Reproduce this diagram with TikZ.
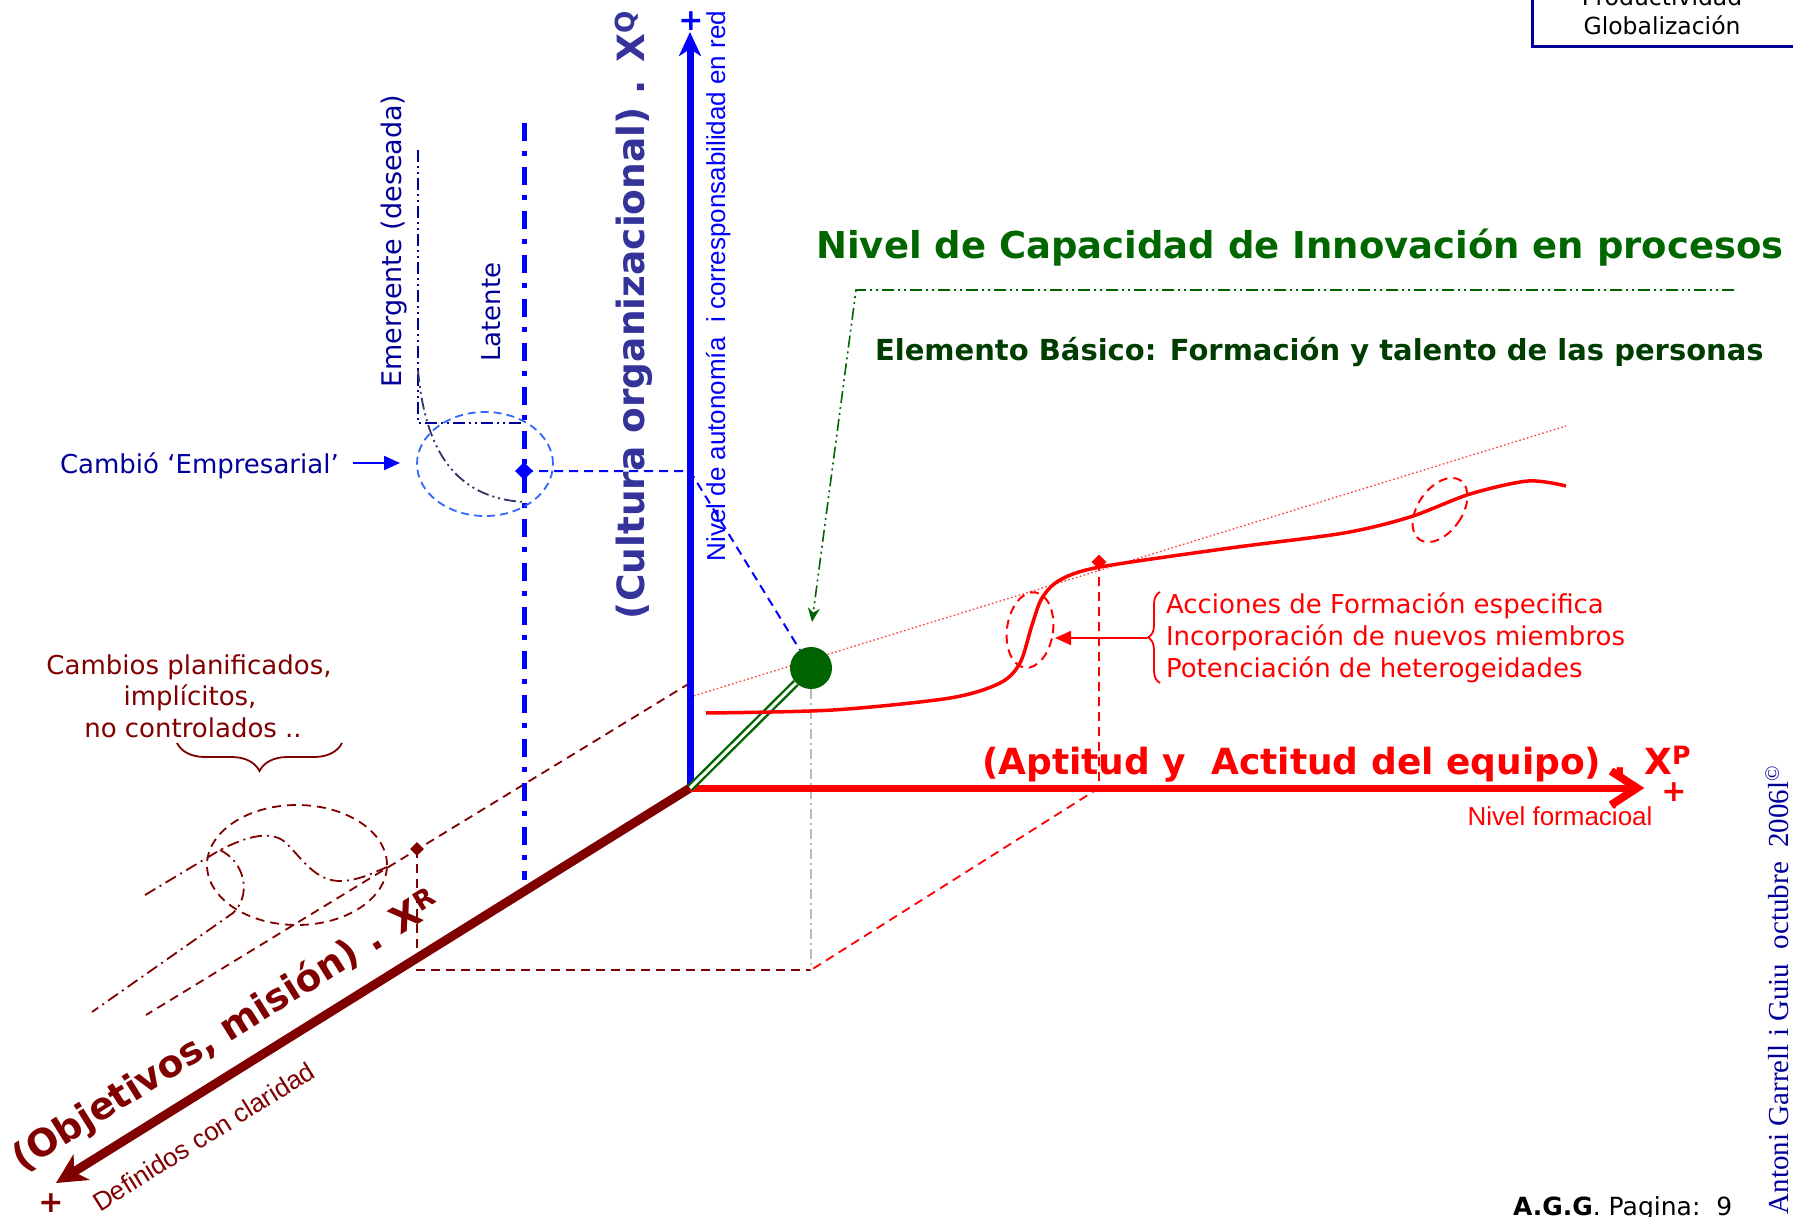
\documentclass[tikz,border=0pt]{standalone}
\usepackage{fontspec}
\usepackage{graphicx}
\setmainfont{DejaVu Sans}
\newfontfamily\arialf{Liberation Sans}
\newfontfamily\timesf{Liberation Serif}
\usetikzlibrary{arrows.meta,shapes.geometric,decorations.pathreplacing}
\definecolor{maroonc}{HTML}{800000}
\definecolor{cultc}{HTML}{333399}
\definecolor{navyc}{HTML}{000099}
\definecolor{grnc}{HTML}{006400}
\definecolor{grnt}{HTML}{006600}
\definecolor{grnd}{HTML}{003D00}
\definecolor{ltblue}{HTML}{3366FF}
\definecolor{slatec}{HTML}{333366}
\definecolor{greyc}{HTML}{BBBBBB}
\newcommand{\fsz}[1]{\fontsize{#1}{#1}\selectfont}
\begin{document}
\begin{tikzpicture}[x=1pt, y=-1pt,
  txt/.style={inner sep=0pt, outer sep=0pt},
  dsh/.style={dash pattern=on 9pt off 6pt},
  ddd/.style={dash pattern=on 12pt off 4pt on 2pt off 4pt on 2pt off 4pt},
  ddot/.style={dash pattern=on 12pt off 5pt on 2pt off 5pt},
  dia/.style={diamond, inner sep=0pt, minimum size=#1},
  thinline/.style={line width=1.8pt},
]
\useasboundingbox (0,0) rectangle (1793,1217);
\fill[white] (0,0) rectangle (1793,1217);

% ---------- coordinates
\coordinate (O) at (690,788);
\coordinate (Qtip) at (690,32);
\coordinate (Pend) at (1633,788);
\coordinate (Ptip) at (1637,788);
\coordinate (ch1) at (1611,771);
\coordinate (ch2) at (1611,805);
\coordinate (Rtip) at (56,1183);

% ---------- top-right box
\draw[navyc, line width=3pt] (1532,-5) -- (1532,47) -- (1797,47);
\node[txt, anchor=base, font=\fsz{23.5}] (prod) at (1662,6) {Productividad};
\node[txt, anchor=base, font=\fsz{23.5}] (glob) at (1662,35) {Globalización};

% ---------- maroon dashed construction lines
\coordinate (mA) at (690,683);
\coordinate (mB) at (146,1015);
\coordinate (mC) at (417,970);
\coordinate (mD) at (811,970);
\draw[maroonc, thinline, dsh] (mA) -- (mB);
\node[dia=14pt, fill=maroonc] (dM) at (417,849) {};
\draw[maroonc, thinline, dsh] (dM.center) -- (mC) -- (mD);

% ---------- red dashed construction lines
\node[dia=15pt, fill=red] (dR) at (1099,562) {};
\coordinate (rA) at (1099,788);
\draw[red, thinline, dsh] (dR.center) -- (rA) -- (mD);

% ---------- red dotted line
\coordinate (dtA) at (690,697);
\coordinate (dtB) at (1566,426);
\draw[red!75, line width=1.3pt, dash pattern=on 1.6pt off 2.4pt] (dtA) -- (dtB);

% ---------- maroon dash-dot paths and ellipse
\coordinate (pa0) at (145,895);
\coordinate (pa1) at (220,850);
\coordinate (pa2) at (387,867);
\coordinate (pb1) at (233,913);
\coordinate (pb2) at (92,1012);
\draw[maroonc, thinline, ddot] (pa0) -- (pa1) .. controls (240,840) and (268,828) .. (285,842)
   .. controls (302,858) and (315,882) .. (342,881) .. controls (360,880) and (375,872) .. (pa2);
\draw[maroonc, thinline, ddot] (pa1) .. controls (245,862) and (252,895) .. (pb1) -- (pb2);
\draw[maroonc, thinline, dsh] (297,865) ellipse [x radius=90pt, y radius=60pt];

% ---------- brace + text (bottom left)
\coordinate (bl) at (177,743);
\coordinate (br) at (342,743);
\draw[maroonc, line width=1.8pt, decorate, decoration={brace, mirror, amplitude=28pt, aspect=0.5}] (bl) -- (br);
\node[txt, anchor=base, text=maroonc, font=\fsz{26}] (cb1) at (189,674) {Cambios planificados,};
\node[txt, anchor=base, text=maroonc, font=\fsz{26}] (cb2) at (190,705) {implícitos,};
\node[txt, anchor=base, text=maroonc, font=\fsz{26}] (cb3) at (193,737) {no controlados ..};

% ---------- blue left group
\coordinate (latT) at (524,123);
\coordinate (latB) at (524,880);
\draw[blue, line width=5pt, dash pattern=on 18pt off 10pt on 5pt off 11pt] (latT) -- (latB);
\coordinate (emT) at (418,150);
\coordinate (emC) at (418,423);
\coordinate (emR) at (524,423);
\draw[navyc, thinline, ddd] (emT) -- (emC) -- (emR);
\coordinate (cvA) at (418,370);
\coordinate (cvB) at (524,502);
\draw[slatec, thinline, ddd] (cvA) .. controls (425,450) and (455,498) .. (cvB);
\draw[ltblue, line width=1.8pt, dash pattern=on 8pt off 5pt] (485,464) ellipse [x radius=68pt, y radius=52pt];
\node[dia=18pt, fill=blue] (dB) at (524,471) {};
\coordinate (bax) at (690,471);

\node[txt, anchor=base west, text=navyc, font=\fsz{26}] (camb) at (60,473) {Cambió ‘Empresarial’};
\coordinate (caA) at (353,463);
\coordinate (caB) at (400,463);
\draw[blue, line width=2pt, -{Triangle[length=16pt,width=14pt]}] (caA) -- (caB);

\node[txt, anchor=base, rotate=90, text=navyc, font=\fsz{27}] (emer) at (401,241) {Emergente (deseada)};
\node[txt, anchor=base, rotate=90, text=navyc, font=\fsz{26}] (lat) at (500,312) {Latente};

% ---------- green circle & dashed links
\node[circle, fill=grnc, minimum size=42pt, inner sep=0pt] (G) at (811,668) {};
\coordinate (gD) at (811,970);
\draw[greyc, line width=1.8pt, dash pattern=on 10pt off 4pt on 2pt off 4pt] (G.south) -- (gD);
\draw[blue, line width=2pt, dsh] (dB.center) -- (bax) -- (G);

% ---------- axes
\draw[blue, line width=7pt, -{Stealth[length=24pt,width=22pt,inset=7pt]}] (O) -- (Qtip);
\draw[maroonc, line width=9pt, -{Stealth[length=30pt,width=30pt,inset=9pt]}] (O) -- (Rtip);
\draw[red, line width=7pt] (O) -- (Pend);
\draw[red, line width=8pt, line join=miter, miter limit=6] (ch1) -- (Ptip) -- (ch2);
\draw[grnc, line width=2.4pt, double=white, double distance=3pt] (O) -- (G);

\node[txt, text=blue, font=\bfseries\fsz{30}] (plQ) at (691,21) {+};
\node[txt, text=red, font=\bfseries\fsz{30}] (plP) at (1674,792) {+};
\node[txt, text=maroonc, font=\bfseries\fsz{30}] (plR) at (51,1203) {+};

% ---------- red curve
\draw[red, line width=3.5pt] plot[smooth, tension=0.5] coordinates {(706,713) (833,710) (950,698) (1000,683) (1020,663) (1032,625) (1042,598) (1060,580) (1100,567) (1230,548) (1344,533) (1410,517) (1470,494) (1528,481) (1566,486)};
\draw[red, line width=2pt, dsh, rotate around={-8:(1030,630)}] (1030,630) ellipse [x radius=23pt, y radius=38pt];
\draw[red, line width=2pt, dsh, rotate around={-35:(1440,510)}] (1440,510) ellipse [x radius=22pt, y radius=36pt];

% ---------- red brace and list
\coordinate (rbB) at (1160,683);
\coordinate (rbT) at (1160,592);
\coordinate (rbTip) at (1147,638);
\coordinate (rAr) at (1055,638);
\draw[red, line width=1.8pt, decorate, decoration={brace, amplitude=12pt}] (rbB) -- (rbT);
\draw[red, line width=2pt, -{Triangle[length=16pt,width=14pt]}] (rbTip) -- (rAr);
\node[txt, anchor=base west, text=red, font=\fsz{26}] (ac1) at (1166,613) {Acciones de Formación especifica};
\node[txt, anchor=base west, text=red, font=\fsz{26}] (ac2) at (1166,645) {Incorporación de nuevos miembros};
\node[txt, anchor=base west, text=red, font=\fsz{26}] (ac3) at (1166,677) {Potenciación de heterogeidades};

% ---------- green title and pointer
\node[txt, anchor=base, text=grnt, font=\bfseries\fsz{37}] (tit) at (1300,258) {Nivel de Capacidad de Innovación en procesos};
\node[txt, anchor=base west, text=grnd, font=\bfseries\fsz{29}] (sub) at (875,360) {Elemento Básico: Formación y talento de las personas};
\coordinate (gA) at (1734,290);
\coordinate (gB) at (856,290);
\coordinate (gT) at (812,622);
\draw[grnc, line width=1.6pt, ddd, -{Stealth[length=14pt,width=12pt]}] (gA) -- (gB) -- (gT);

% ---------- axis titles
\node[txt, anchor=base, rotate=90, text=cultc, font=\bfseries\fsz{37.5}] (cult) at (644,315) {(Cultura organizacional) . X\textsuperscript{Q}};
\node[txt, anchor=base, rotate=90, text=blue, font=\arialf\fsz{26}] (auto) at (725,286) {Nivel de autonomía~~i corresponsabilidad en red};
\node[txt, anchor=base west, text=red, font=\bfseries\fsz{36}] (apt) at (982,774) {(Aptitud y~~Actitud del equipo) . X\textsuperscript{P}};
\node[txt, anchor=base, text=red, font=\arialf\fsz{26}] (form) at (1560,825) {Nivel formacioal};
\node[txt, anchor=base west, rotate=32, text=maroonc, font=\bfseries\fsz{37.5}] (obj) at (22,1172) {(Objetivos, misión) . X\textsuperscript{R}};
\node[txt, anchor=base west, rotate=32, text=maroonc, font=\arialf\fsz{26}] (defi) at (100,1212) {Definidos con claridad};

% ---------- footer
\node[txt, anchor=base west, font=\fsz{25}] (agg) at (1513,1215) {\textbf{A.G.G}. Pagina:~~9};
\node[txt, anchor=base west, rotate=90, text=navyc, font=\timesf\fsz{29}] (copy) at (1788,1214) {Antoni Garrell i Guiu~~octubre~~2006l\textsuperscript{©}};
\end{tikzpicture}
\end{document}
